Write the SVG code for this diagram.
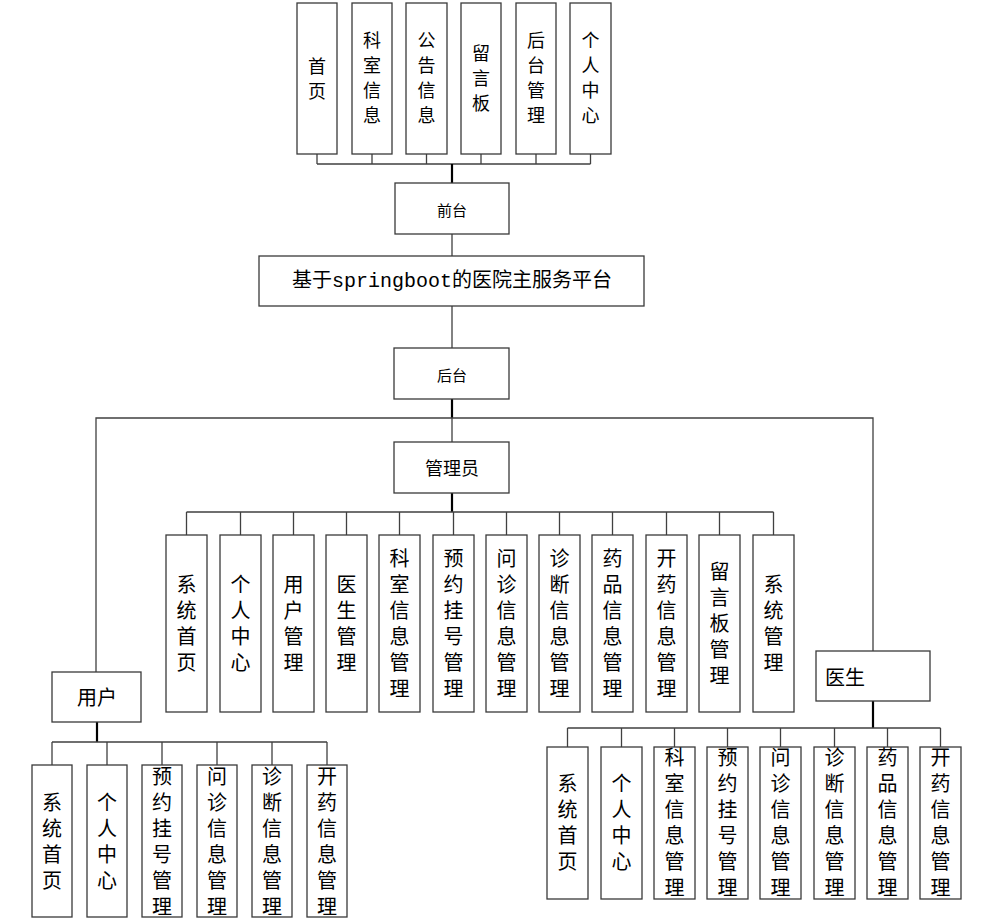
<svg xmlns="http://www.w3.org/2000/svg" width="1002" height="922" viewBox="0 0 1002 922">
<style>
rect{fill:#fff;stroke:#3a3a3a;stroke-width:1.3}
.c{fill:none;stroke:#404040;stroke-width:1.3}
.t{fill:none;stroke:#000;stroke-width:2.2}
text{font-family:"Noto Sans CJK SC",sans-serif;fill:#000;text-anchor:middle;dominant-baseline:central}
.v{writing-mode:vertical-rl;font-size:20px;letter-spacing:6px}
.vt{writing-mode:vertical-rl;font-size:18px;letter-spacing:7px}
.s18{font-size:18px}
.s20{font-size:20px}
.s16{font-size:15px}
.title{font-family:"Liberation Mono","Noto Sans CJK SC",monospace;font-size:20px}
</style>
<rect x="0" y="0" width="1002" height="922" style="fill:#fff;stroke:none"/>
<g id="connectors">
<path class="c" d="M317 154V164M372 154V164M426.5 154V164M481 154V164M536 154V164M590.5 154V164M317 164H590.5"/>
<path class="t" d="M452 164V183"/>
<path class="c" d="M452 234V256M452 306V348"/>
<path class="t" d="M452 399V418"/>
<path class="c" d="M96 672V418H873V651M452 418V442"/>
<path class="t" d="M452 493V512"/>
<path class="c" d="M186.5 512H773.5M186.5 512V535M240.5 512V535M293.5 512V535M346.5 512V535M399.5 512V535M453.5 512V535M506.5 512V535M559.5 512V535M612.5 512V535M666.5 512V535M719.5 512V535M773.5 512V535"/>
<path class="t" d="M97 722V742"/>
<path class="c" d="M52 742H327M52 742V765M107 742V765M162 742V765M217 742V765M272 742V765M327 742V765"/>
<path class="t" d="M873 701V728"/>
<path class="c" d="M567.5 728H940.5M567.5 728V747M621.5 728V747M674.5 728V747M727.5 728V747M780.5 728V747M834.5 728V747M887.5 728V747M940.5 728V747"/>
</g>
<g id="top-nodes">
<g id="n-shouye"><rect x="297" y="3" width="40" height="151"/><text class="vt" x="317" y="82">首页</text></g>
<g id="n-keshi"><rect x="352" y="3" width="40" height="151"/><text class="vt" x="372" y="81">科室信息</text></g>
<g id="n-gonggao"><rect x="406" y="3" width="41" height="151"/><text class="vt" x="426.5" y="81">公告信息</text></g>
<g id="n-liuyan"><rect x="461" y="3" width="40" height="151"/><text class="vt" x="481" y="82">留言板</text></g>
<g id="n-houtaiguanli"><rect x="516" y="3" width="40" height="151"/><text class="vt" x="536" y="81">后台管理</text></g>
<g id="n-geren"><rect x="570" y="3" width="41" height="151"/><text class="vt" x="590.5" y="81">个人中心</text></g>
</g>
<g id="n-qiantai"><rect x="395" y="183" width="114" height="51"/><text class="s16" x="452" y="209">前台</text></g>
<g id="n-main"><rect x="259" y="256" width="385" height="50"/><text class="title" x="452" y="281">基于springboot的医院主服务平台</text></g>
<g id="n-houtai"><rect x="394" y="348" width="115" height="51"/><text class="s16" x="452" y="374">后台</text></g>
<g id="n-admin"><rect x="394" y="442" width="115" height="51"/><text class="s18" x="452" y="467">管理员</text></g>
<g id="admin-children">
<g><rect x="166" y="535" width="41" height="177"/><text class="v" x="186.5" y="626.5">系统首页</text></g>
<g><rect x="220" y="535" width="41" height="177"/><text class="v" x="240.5" y="626.5">个人中心</text></g>
<g><rect x="273" y="535" width="41" height="177"/><text class="v" x="293.5" y="626.5">用户管理</text></g>
<g><rect x="326" y="535" width="41" height="177"/><text class="v" x="346.5" y="626.5">医生管理</text></g>
<g><rect x="379" y="535" width="41" height="177"/><text class="v" x="399.5" y="626.5">科室信息管理</text></g>
<g><rect x="433" y="535" width="41" height="177"/><text class="v" x="453.5" y="626.5">预约挂号管理</text></g>
<g><rect x="486" y="535" width="41" height="177"/><text class="v" x="506.5" y="626.5">问诊信息管理</text></g>
<g><rect x="539" y="535" width="41" height="177"/><text class="v" x="559.5" y="626.5">诊断信息管理</text></g>
<g><rect x="592" y="535" width="41" height="177"/><text class="v" x="612.5" y="626.5">药品信息管理</text></g>
<g><rect x="646" y="535" width="41" height="177"/><text class="v" x="666.5" y="626.5">开药信息管理</text></g>
<g><rect x="699" y="535" width="41" height="177"/><text class="v" x="719.5" y="626.5">留言板管理</text></g>
<g><rect x="753" y="535" width="41" height="177"/><text class="v" x="773.5" y="626.5">系统管理</text></g>
</g>
<g id="n-user"><rect x="52" y="672" width="89" height="50"/><text class="s20" x="97" y="696">用户</text></g>
<g id="user-children">
<g><rect x="32" y="765" width="40" height="152"/><text class="v" x="52" y="844">系统首页</text></g>
<g><rect x="87" y="765" width="40" height="152"/><text class="v" x="107" y="844">个人中心</text></g>
<g><rect x="142" y="765" width="40" height="152"/><text class="v" x="162" y="844">预约挂号管理</text></g>
<g><rect x="197" y="765" width="40" height="152"/><text class="v" x="217" y="844">问诊信息管理</text></g>
<g><rect x="252" y="765" width="40" height="152"/><text class="v" x="272" y="844">诊断信息管理</text></g>
<g><rect x="307" y="765" width="40" height="152"/><text class="v" x="327" y="844">开药信息管理</text></g>
</g>
<g id="n-doctor"><rect x="816" y="651" width="114" height="50"/><text class="s20" x="845" y="676">医生</text></g>
<g id="doctor-children">
<g><rect x="547" y="747" width="41" height="152"/><text class="v" x="567.5" y="825.5">系统首页</text></g>
<g><rect x="601" y="747" width="41" height="152"/><text class="v" x="621.5" y="825.5">个人中心</text></g>
<g><rect x="654" y="747" width="41" height="152"/><text class="v" x="674.5" y="825.5">科室信息管理</text></g>
<g><rect x="707" y="747" width="41" height="152"/><text class="v" x="727.5" y="825.5">预约挂号管理</text></g>
<g><rect x="760" y="747" width="41" height="152"/><text class="v" x="780.5" y="825.5">问诊信息管理</text></g>
<g><rect x="814" y="747" width="41" height="152"/><text class="v" x="834.5" y="825.5">诊断信息管理</text></g>
<g><rect x="867" y="747" width="41" height="152"/><text class="v" x="887.5" y="825.5">药品信息管理</text></g>
<g><rect x="920" y="747" width="41" height="152"/><text class="v" x="940.5" y="825.5">开药信息管理</text></g>
</g>
</svg>
